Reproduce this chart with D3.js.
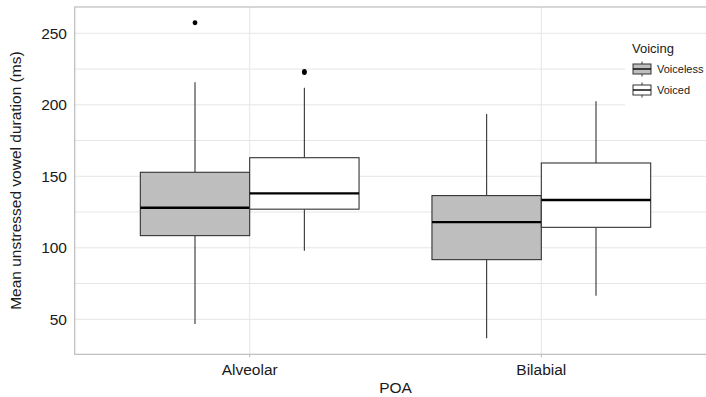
<!DOCTYPE html>
<html>
<head>
<meta charset="utf-8">
<script src="https://cdn.jsdelivr.net/npm/d3@7"></script>
<style>
  body { margin: 0; background: #fff; }
  svg { display: block; font-family: "Liberation Sans", Arial, sans-serif; }
</style>
</head>
<body>
<svg id="chart" width="706" height="397"></svg>
<script>
/* ── data ── */
const categories = ['Alveolar', 'Bilabial'];
const voicings   = ['Voiceless', 'Voiced'];
const fills      = ['#bebebe', '#ffffff'];

// per category, per voicing
const lowerWhisker = [[46.7, 98], [36.7, 66.5]];
const q1           = [[108.5, 127], [91.7, 114.3]];
const medians      = [[128, 138.1], [118, 133.4]];
const q3           = [[152.8, 163], [136.5, 159.3]];
const upperWhisker = [[215.7, 212], [193.6, 202.4]];
const outliers     = [[[257.4], [222.5, 223.3]], [[], []]];

const yTicks = [50, 100, 150, 200, 250];
const yMinor = [75, 125, 175, 225];

/* ── layout ── */
const svg = d3.select('#chart');
const panel = { left: 74.7, right: 716.3, top: 7, bottom: 354.3 };

const x = d3.scalePoint()
  .domain(categories)
  .range([panel.left, panel.right])
  .padding(0.6);
const dodge = x.step() * 0.75;
const xInner = d3.scaleBand()
  .domain(voicings)
  .range([-dodge / 2, dodge / 2]);

const y = d3.scaleLinear()
  .domain([25.5, 268.4])
  .range([panel.bottom, panel.top]);

const gridColor = '#e6e6e6';
const g = svg.append('g');

/* ── grid ── */
g.selectAll('line.hgrid')
  .data(yTicks.concat(yMinor))
  .join('line')
  .attr('class', 'hgrid')
  .attr('x1', panel.left).attr('x2', panel.right)
  .attr('y1', d => y(d)).attr('y2', d => y(d))
  .attr('stroke', gridColor).attr('stroke-width', 1);

g.selectAll('line.vgrid')
  .data(categories)
  .join('line')
  .attr('class', 'vgrid')
  .attr('x1', d => x(d)).attr('x2', d => x(d))
  .attr('y1', panel.top).attr('y2', panel.bottom)
  .attr('stroke', gridColor).attr('stroke-width', 1);

/* ── boxes ── */
const boxes = [];
categories.forEach((c, i) => {
  voicings.forEach((v, j) => {
    boxes.push({
      cat: c, voicing: v, fill: fills[j],
      lo: lowerWhisker[i][j], q1: q1[i][j], med: medians[i][j],
      q3: q3[i][j], hi: upperWhisker[i][j], out: outliers[i][j]
    });
  });
});

const boxG = g.selectAll('g.box')
  .data(boxes)
  .join('g')
  .attr('class', 'box')
  .attr('transform', d => `translate(${x(d.cat) + xInner(d.voicing)},0)`);

const bw = xInner.bandwidth();

boxG.append('line')
  .attr('x1', bw / 2).attr('x2', bw / 2)
  .attr('y1', d => y(d.q3)).attr('y2', d => y(d.hi))
  .attr('stroke', '#333').attr('stroke-width', 1.1);
boxG.append('line')
  .attr('x1', bw / 2).attr('x2', bw / 2)
  .attr('y1', d => y(d.q1)).attr('y2', d => y(d.lo))
  .attr('stroke', '#333').attr('stroke-width', 1.1);

boxG.append('rect')
  .attr('x', 0).attr('width', bw)
  .attr('y', d => y(d.q3))
  .attr('height', d => y(d.q1) - y(d.q3))
  .attr('fill', d => d.fill)
  .attr('stroke', '#333').attr('stroke-width', 1.1);

boxG.append('line')
  .attr('x1', 0).attr('x2', bw)
  .attr('y1', d => y(d.med)).attr('y2', d => y(d.med))
  .attr('stroke', '#000').attr('stroke-width', 2.3);

boxG.selectAll('circle')
  .data(d => d.out)
  .join('circle')
  .attr('cx', bw / 2)
  .attr('cy', d => y(d))
  .attr('r', 2.4)
  .attr('fill', '#000');

/* ── panel border ── */
g.append('rect')
  .attr('x', panel.left).attr('y', panel.top)
  .attr('width', panel.right - panel.left)
  .attr('height', panel.bottom - panel.top)
  .attr('fill', 'none')
  .attr('stroke', '#bcbcbc').attr('stroke-width', 1.2);

/* ── axes ── */
g.selectAll('text.ytick')
  .data(yTicks)
  .join('text')
  .attr('class', 'ytick')
  .attr('x', 67).attr('y', d => y(d))
  .attr('dy', '0.36em')
  .attr('text-anchor', 'end')
  .attr('font-size', 15.5)
  .attr('fill', '#1a1a1a')
  .text(d => d);

g.selectAll('line.xtick')
  .data(categories)
  .join('line')
  .attr('class', 'xtick')
  .attr('x1', d => x(d)).attr('x2', d => x(d))
  .attr('y1', panel.bottom).attr('y2', panel.bottom + 3)
  .attr('stroke', '#bcbcbc');

g.selectAll('text.xtick')
  .data(categories)
  .join('text')
  .attr('class', 'xtick')
  .attr('x', d => x(d)).attr('y', 375)
  .attr('text-anchor', 'middle')
  .attr('font-size', 15.5)
  .attr('fill', '#1a1a1a')
  .text(d => d);

svg.append('text')
  .attr('x', (panel.left + panel.right) / 2).attr('y', 392.5)
  .attr('text-anchor', 'middle')
  .attr('font-size', 15.5)
  .attr('fill', '#1a1a1a')
  .text('POA');

svg.append('text')
  .attr('transform', `translate(21,${(panel.top + panel.bottom) / 2}) rotate(-90)`)
  .attr('text-anchor', 'middle')
  .attr('font-size', 15.5)
  .attr('fill', '#1a1a1a')
  .text('Mean unstressed vowel duration (ms)');

/* ── legend ── */
const legend = svg.append('g').attr('transform', 'translate(625,36)');
legend.append('rect')
  .attr('x', 0).attr('y', 0).attr('width', 90).attr('height', 73)
  .attr('fill', '#fff');
legend.append('text')
  .attr('x', 7).attr('y', 17)
  .attr('font-size', 13)
  .attr('fill', '#1a1a1a')
  .text('Voicing');

const keys = legend.selectAll('g.key')
  .data(voicings)
  .join('g')
  .attr('class', 'key')
  .attr('transform', (d, i) => `translate(8,${33 + i * 21})`);

keys.append('line')
  .attr('x1', 9).attr('x2', 9).attr('y1', -7.5).attr('y2', 7.5)
  .attr('stroke', '#333');
keys.append('rect')
  .attr('x', 0).attr('y', -5).attr('width', 18).attr('height', 10)
  .attr('fill', (d, i) => fills[i])
  .attr('stroke', '#333').attr('stroke-width', 1);
keys.append('line')
  .attr('x1', 0).attr('x2', 18).attr('y1', 0).attr('y2', 0)
  .attr('stroke', '#000').attr('stroke-width', 1.4);
keys.append('text')
  .attr('x', 24).attr('y', 0).attr('dy', '0.36em')
  .attr('font-size', 11)
  .attr('fill', '#1a1a1a')
  .text(d => d);
</script>
</body>
</html>
